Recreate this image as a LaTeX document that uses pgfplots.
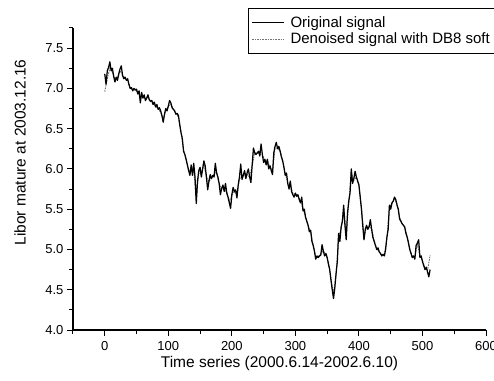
\documentclass[border=0pt]{standalone}
\usepackage{pgfplots}
\usepackage{pgfplotstable}
\pgfplotsset{compat=1.18}
\usepackage{fontspec}
\setmainfont{Liberation Sans}

% Daily Libor (maturity 2003.12.16), 2000.6.14 -- 2002.6.10
\pgfplotstableread{
t v
0 7.18
2 7.05
4 7.22
6 7.26
8 7.33
10 7.22
12 7.25
14 7.15
16 7.08
18 7.14
20 7.10
22 7.18
24 7.24
26 7.28
28 7.16
30 7.12
32 7.14
34 7.10
36 7.12
38 7.05
40 7.00
42 7.01
44 6.97
46 7.00
48 6.98
50 6.99
52 6.93
54 6.97
56 6.82
58 6.95
60 6.88
62 6.92
64 6.85
66 6.88
68 6.92
70 6.86
72 6.84
74 6.85
76 6.80
78 6.83
80 6.77
82 6.80
84 6.74
86 6.76
88 6.72
90 6.66
92 6.58
94 6.68
96 6.75
98 6.72
100 6.78
102 6.85
104 6.82
106 6.76
108 6.74
110 6.72
112 6.68
114 6.69
116 6.66
118 6.55
120 6.45
122 6.38
124 6.22
126 6.18
128 6.12
130 6.05
132 5.98
134 5.92
136 6.05
138 5.92
140 6.07
142 5.90
144 5.57
146 5.85
148 5.98
150 6.02
152 5.90
154 6.00
156 6.10
158 6.04
160 5.90
162 5.74
164 5.85
166 5.93
168 5.88
170 5.92
172 5.90
174 6.07
176 5.95
178 5.90
180 5.82
182 5.68
184 5.76
186 5.80
188 5.72
190 5.82
192 5.70
194 5.65
196 5.58
198 5.51
200 5.68
202 5.77
204 5.72
206 5.74
208 5.64
210 5.80
212 5.90
214 6.06
216 5.87
218 5.92
220 5.98
222 5.88
224 5.95
226 6.00
228 5.90
230 5.83
232 6.05
234 6.26
236 6.20
238 6.18
240 6.20
242 6.22
244 6.16
246 6.31
248 6.18
250 6.08
252 6.12
254 6.05
256 6.12
258 6.00
260 6.04
262 5.98
264 5.93
266 6.20
268 6.28
270 6.33
272 6.25
274 6.28
276 6.22
278 6.15
280 6.10
282 6.02
284 5.92
286 5.95
288 5.82
290 5.75
292 5.85
294 5.72
296 5.68
298 5.65
300 5.70
302 5.66
304 5.68
306 5.62
308 5.58
310 5.65
312 5.48
314 5.50
316 5.40
318 5.35
320 5.30
322 5.22
324 5.24
326 5.10
328 5.05
330 4.98
332 4.88
334 4.92
336 4.90
338 4.92
340 4.93
342 5.06
344 4.98
346 4.92
348 4.95
350 4.90
352 4.82
354 4.75
356 4.62
358 4.50
360 4.39
362 4.52
364 4.70
366 4.85
368 5.20
370 5.10
372 5.28
374 5.35
376 5.55
378 5.30
380 5.12
382 5.45
384 5.60
386 5.70
388 6.00
390 5.82
392 5.88
394 5.97
396 5.90
398 5.85
400 5.80
402 5.65
404 5.50
406 5.30
408 5.12
410 5.25
412 5.30
414 5.25
416 5.28
418 5.37
420 5.25
422 5.15
424 5.10
426 5.05
428 5.00
430 5.02
432 4.97
434 4.95
436 4.92
438 4.94
440 4.92
442 5.00
444 5.15
446 5.25
448 5.55
450 5.50
452 5.58
454 5.60
456 5.65
458 5.62
460 5.55
462 5.50
464 5.38
466 5.35
468 5.32
470 5.30
472 5.28
474 5.20
476 5.15
478 5.08
480 5.00
482 4.95
484 4.90
486 4.92
488 4.88
490 5.05
492 5.08
494 5.12
496 4.90
498 4.92
500 4.85
502 4.80
504 4.75
506 4.78
508 4.72
510 4.66
512 4.75
}\originaldata

% Reconstruction after DB8 wavelet soft thresholding
\pgfplotstableread{
t v
0 6.96
4 7.12
8 7.25
12 7.20
16 7.12
20 7.13
24 7.22
28 7.17
32 7.12
36 7.10
40 7.01
44 6.98
48 6.98
52 6.95
56 6.90
60 6.89
64 6.87
68 6.89
72 6.84
76 6.81
80 6.78
84 6.75
88 6.70
92 6.62
96 6.72
100 6.78
104 6.80
108 6.74
112 6.69
116 6.64
120 6.46
124 6.24
128 6.12
132 5.98
136 5.98
140 5.98
144 5.65
148 5.95
152 5.93
156 6.06
160 5.90
164 5.84
168 5.89
172 5.93
176 5.96
180 5.82
184 5.75
188 5.75
192 5.71
196 5.60
200 5.67
204 5.72
208 5.67
212 5.88
216 5.90
220 5.95
224 5.93
228 5.90
232 6.04
236 6.20
240 6.20
244 6.18
248 6.18
252 6.10
256 6.10
260 6.02
264 5.98
268 6.25
272 6.26
276 6.22
280 6.10
284 5.94
288 5.83
292 5.82
296 5.69
300 5.69
304 5.67
308 5.60
312 5.50
316 5.40
320 5.30
324 5.22
328 5.06
332 4.90
336 4.91
340 4.95
344 4.98
348 4.94
352 4.84
356 4.64
360 4.45
364 4.68
368 5.15
372 5.26
376 5.50
380 5.18
384 5.58
388 5.95
392 5.86
396 5.90
400 5.80
404 5.52
408 5.15
412 5.28
416 5.28
420 5.26
424 5.11
428 5.01
432 4.97
436 4.93
440 4.93
444 5.14
448 5.52
452 5.57
456 5.63
460 5.56
464 5.40
468 5.32
472 5.28
476 5.16
480 5.01
484 4.91
488 4.90
492 5.07
496 4.92
500 4.86
504 4.77
508 4.74
512 4.93
}\denoiseddata

\begin{document}
\begin{tikzpicture}
\begin{axis}[
  name=ax,
  scale only axis,
  width=413pt, height=302pt,
  xmin=-50, xmax=600,
  ymin=4, ymax=7.75,
  axis x line*=bottom,
  axis y line*=left,
  axis line style={line width=1.1pt, black, -},
  tick align=outside,
  xtick={0,100,...,600},
  minor xtick={-50,50,150,250,350,450,550},
  ytick={4,4.5,...,7.5},
  minor ytick={4.25,4.75,...,7.75},
  major tick length=6pt,
  minor tick length=3.5pt,
  every tick/.style={black, line width=1pt},
  /pgf/number format/assume math mode=true,
  yticklabel style={/pgf/number format/.cd, fixed, fixed zerofill, precision=1},
  xticklabel style={yshift=-2pt},
  ticklabel style={font=\fontsize{13}{15}\selectfont},
  xlabel={Time series (2000.6.14-2002.6.10)},
  ylabel={Libor mature at 2003.12.16},
  label style={font=\fontsize{15.5}{18}\selectfont},
  xlabel style={at={(rel axis cs:0.5,-0.11)}, anchor=center},
  ylabel style={at={(rel axis cs:-0.1283,0.588)}, anchor=center},
  legend style={at={(rel axis cs:0.4237,1.0655)}, anchor=north west,
    draw=black, line width=1pt, font=\fontsize{15}{17}\selectfont,
    inner xsep=3pt, inner ysep=6pt, row sep=0pt},
  legend cell align=left,
  reverse legend,
  legend image code/.code={\draw[#1, line width=0.9pt] (0pt,0pt) -- (32pt,0pt); \path (36pt,0pt);},
]
\addplot[black!55, line width=0.9pt, dash pattern=on 1.6pt off 1pt] table {\denoiseddata};
\addplot[black, line width=1.25pt, line join=round] table {\originaldata};
\legend{Denoised signal with DB8 soft\hspace*{40pt}, Original signal}
\end{axis}
\pgfresetboundingbox
\path[use as bounding box] ([shift={(-73pt,-50pt)}]ax.south west) rectangle ([shift={(8pt,28pt)}]ax.north east);
\end{tikzpicture}
\end{document}
